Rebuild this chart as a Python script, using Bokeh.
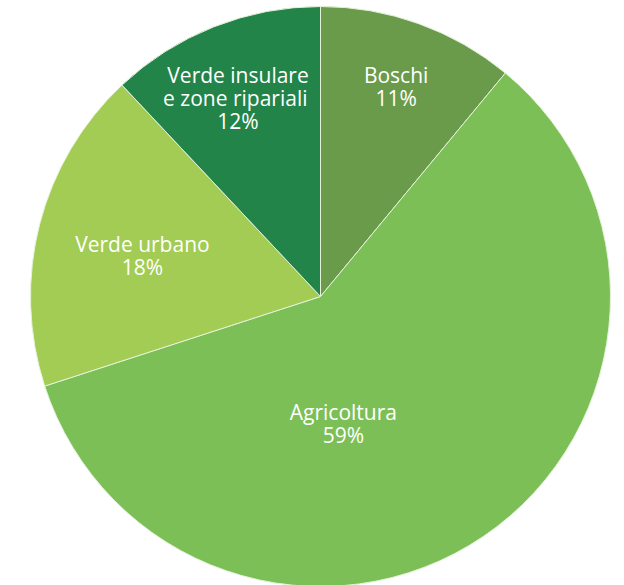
import math
from bokeh.plotting import figure
from bokeh.models import Range1d, ColumnDataSource
from bokeh.core.properties import value
from bokeh.embed import file_html
from bokeh.resources import INLINE

# Data
categories = ["Boschi", "Agricoltura", "Verde urbano", "Verde insulare\ne  zone ripariali"]
percentages = [11, 59, 18, 12]

# Styles
colors = ["#6a9b4b", "#7bbf56", "#a2cc53", "#23844a"]
label_angle_shift = [0.0, 24.0, -1.5, -1.0]   # degrees, shift from wedge mid-angle
label_radius_frac = [0.77, 0.445, 0.63, 0.74]

W, H = 616, 585
cx, cy, R = 320, -296, 290

p = figure(width=W, height=H, output_backend="svg", toolbar_location=None,
           x_range=Range1d(0, W), y_range=Range1d(-H, 0),
           min_border=0)
p.axis.visible = False
p.grid.visible = False
p.outline_line_color = None
p.background_fill_color = "white"
p.border_fill_color = "white"

total = sum(percentages)
starts, ends, lx, ly, labels = [], [], [], [], []
acc = 0.0
for i, v in enumerate(percentages):
    a0 = acc / total * 360.0
    acc += v
    a1 = acc / total * 360.0
    starts.append(math.radians(90 - a0))
    ends.append(math.radians(90 - a1))
    mid = (a0 + a1) / 2 + label_angle_shift[i]
    r = R * label_radius_frac[i]
    lx.append(cx + r * math.sin(math.radians(mid)))
    ly.append(cy + r * math.cos(math.radians(mid)))
    labels.append(f"{categories[i]}\n{v}%")

src = ColumnDataSource(dict(start=starts, end=ends, color=colors))
p.wedge(x=cx, y=cy, radius=R, start_angle="start", end_angle="end",
        direction="clock", fill_color="color", line_color="#e4f2d8",
        line_width=1.0, source=src)

tsrc = ColumnDataSource(dict(x=lx, y=ly, text=labels))
p.text(x="x", y="y", text="text", source=tsrc, text_align="center",
       text_baseline="middle", text_color="white",
       text_font=value("Open Sans"), text_font_size="21px", text_line_height=0.82)

open("out.html", "w").write(file_html(p, INLINE))
